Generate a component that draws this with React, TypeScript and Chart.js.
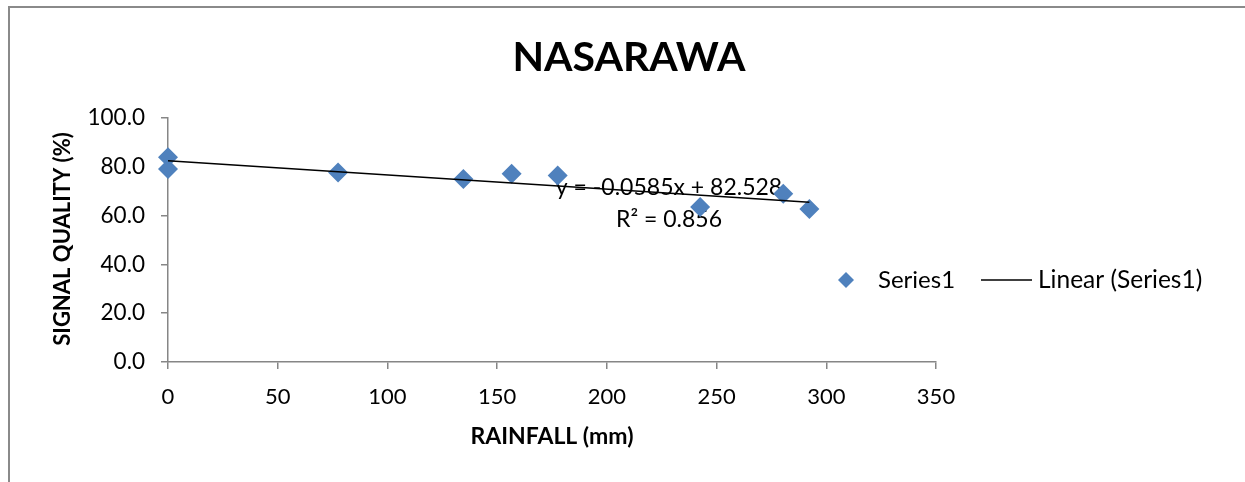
import React, { useEffect, useRef } from "react";
import { Chart, registerables } from "chart.js";

Chart.register(...registerables);

const chartTitle = "NASARAWA";
const xAxisTitle = "RAINFALL (mm)";
const yAxisTitle = "SIGNAL QUALITY (%)";
const seriesName = "Series1";
const trendName = "Linear (Series1)";

const rainfall = [0, 0, 77.5, 134.6, 156.6, 177.6, 242.5, 280.4, 292.3];
const signalQuality = [83.9, 79.1, 77.7, 75.0, 77.2, 76.4, 63.5, 69.0, 62.7];

const trendSlope = -0.0585;
const trendIntercept = 82.528;
const trendR2 = 0.856;

const xMin = 0;
const xMax = 350;
const xStep = 50;
const yMin = 0;
const yMax = 100;
const yStep = 20;

const FONT = "Lato, 'Open Sans', sans-serif";
const BLUE = "#4F81BD";
const AXIS = "#868686";

const overlayPlugin = {
  id: "overlay",
  beforeDatasetsDraw(chart: any) {
    const { ctx, chartArea: ca } = chart;
    ctx.save();
    ctx.fillStyle = "#000";
    ctx.font = `23px ${FONT}`;
    ctx.textAlign = "center";
    ctx.textBaseline = "alphabetic";
    const sign = trendSlope < 0 ? "-" : "+";
    const eq = `y = ${sign}${Math.abs(trendSlope)}x + ${trendIntercept}`;
    ctx.fillText(eq, ca.left + 501, ca.top + 77);
    ctx.fillText(`R² = ${trendR2}`, ca.left + 501, ca.top + 109);
    ctx.restore();
  },
  afterDraw(chart: any) {
    const { ctx, chartArea: ca } = chart;
    ctx.save();
    ctx.fillStyle = "#000";
    ctx.textBaseline = "alphabetic";
    // chart title
    ctx.font = `bold 41px ${FONT}`;
    ctx.textAlign = "center";
    ctx.fillText(chartTitle, 629, 71);
    // x axis title
    ctx.font = `bold 23px ${FONT}`;
    ctx.fillText(xAxisTitle, (ca.left + ca.right) / 2, 444);
    // y axis title
    ctx.save();
    ctx.font = `bold 22px ${FONT}`;
    ctx.translate(70, 239);
    ctx.rotate(-Math.PI / 2);
    ctx.fillText(yAxisTitle, 0, 0);
    ctx.restore();
    // legend
    const ly = 280;
    ctx.fillStyle = BLUE;
    ctx.beginPath();
    ctx.moveTo(846, ly - 8);
    ctx.lineTo(854, ly);
    ctx.lineTo(846, ly + 8);
    ctx.lineTo(838, ly);
    ctx.closePath();
    ctx.fill();
    ctx.fillStyle = "#000";
    ctx.font = `24px ${FONT}`;
    ctx.textAlign = "left";
    ctx.fillText(seriesName, 878, 288);
    ctx.strokeStyle = "#000";
    ctx.lineWidth = 1.5;
    ctx.beginPath();
    ctx.moveTo(981, ly);
    ctx.lineTo(1032, ly);
    ctx.stroke();
    ctx.font = `24.5px ${FONT}`;
    ctx.fillText(trendName, 1038, 288);
    ctx.restore();
  },
};

export default function App() {
  const canvasRef = useRef<HTMLCanvasElement | null>(null);

  useEffect(() => {
    if (!canvasRef.current) return;
    const points = rainfall.map((x, i) => ({ x, y: signalQuality[i] }));
    const tx0 = Math.min(...rainfall);
    const tx1 = Math.max(...rainfall);
    const trend = [
      { x: tx0, y: trendSlope * tx0 + trendIntercept },
      { x: tx1, y: trendSlope * tx1 + trendIntercept },
    ];
    const chart = new Chart(canvasRef.current, {
      type: "scatter",
      data: {
        datasets: [
          {
            label: trendName,
            data: trend,
            showLine: true,
            borderColor: "#000",
            borderWidth: 1.5,
            pointRadius: 0,
            fill: false,
            order: 0,
            clip: false,
          },
          {
            label: seriesName,
            data: points,
            pointStyle: "rectRot",
            pointRadius: 10,
            backgroundColor: BLUE,
            borderColor: BLUE,
            borderWidth: 0,
            order: 1,
            clip: false,
          },
        ],
      },
      options: {
        animation: false,
        responsive: false,
        devicePixelRatio: 1,
        layout: { padding: { left: 0, top: 118, right: 309, bottom: 0 } },
        plugins: {
          legend: { display: false },
          title: { display: false },
          tooltip: { enabled: false },
        },
        scales: {
          x: {
            type: "linear",
            min: xMin,
            max: xMax,
            ticks: {
              stepSize: xStep,
              color: "#000",
              font: { family: FONT, size: 22 },
              padding: 15,
            },
            grid: {
              drawOnChartArea: false,
              drawTicks: true,
              tickLength: 7,
              color: AXIS,
              lineWidth: 1.5,
            },
            border: { display: true, color: AXIS, width: 1.5 },
            afterFit: (s: any) => {
              s.height = 120;
            },
          },
          y: {
            type: "linear",
            min: yMin,
            max: yMax,
            ticks: {
              stepSize: yStep,
              color: "#000",
              font: { family: FONT, size: 22.5 },
              padding: 16,
              callback: (v: any) => Number(v).toFixed(1),
            },
            grid: {
              drawOnChartArea: false,
              drawTicks: true,
              tickLength: 7,
              color: AXIS,
              lineWidth: 1.5,
            },
            border: { display: true, color: AXIS, width: 1.5 },
            afterFit: (s: any) => {
              s.width = 168;
            },
          },
        },
      },
      plugins: [overlayPlugin],
    });
    return () => chart.destroy();
  }, []);

  return (
    <div
      style={{
        position: "absolute",
        left: 0,
        top: 0,
        width: 1245,
        height: 482,
        overflow: "hidden",
        background: "#fff",
      }}
    >
      <div
        style={{
          position: "absolute",
          left: 8,
          top: 6,
          width: 1300,
          height: 600,
          border: "2px solid #8a8a8a",
          boxSizing: "border-box",
          pointerEvents: "none",
        }}
      />
      <canvas
        ref={canvasRef}
        width={1245}
        height={482}
        style={{ position: "absolute", left: 0, top: 0, width: 1245, height: 482 }}
      />
    </div>
  );
}
